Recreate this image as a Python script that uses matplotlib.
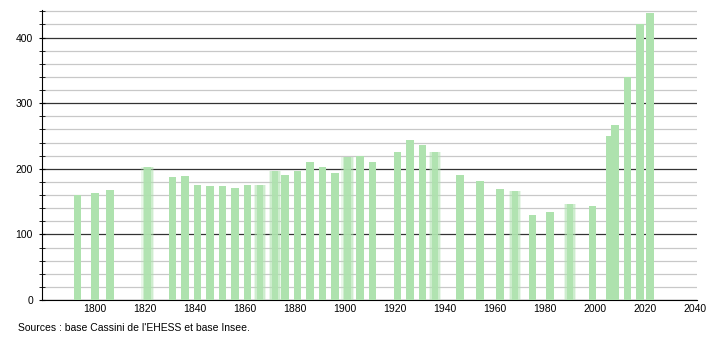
import numpy as np
import matplotlib
matplotlib.use("Agg")
import matplotlib.pyplot as plt
from matplotlib.ticker import MultipleLocator

plt.rcParams['font.family'] = ['Liberation Sans', 'DejaVu Sans']

# population par recensement
annees = [1793, 1800, 1806, 1821, 1831, 1836, 1841, 1846, 1851, 1856, 1861, 1866,
          1872, 1876, 1881, 1886, 1891, 1896, 1901, 1906, 1911, 1921, 1926, 1931,
          1936, 1946, 1954, 1962, 1968, 1975, 1982, 1990, 1999, 2006, 2008, 2013,
          2018, 2022]
population = [160, 163, 167, 202, 187, 189, 176, 174, 174, 171, 176, 175,
              196, 190, 196, 210, 202, 194, 218, 220, 210, 225, 244, 236,
              225, 190, 181, 169, 166, 129, 134, 147, 143, 250, 266, 340,
              420, 437]
# barres floues dans l'original
floues = [1821, 1866, 1872, 1901, 1936, 1968, 1990]

vert = '#aee2ae'

fig = plt.figure(figsize=(7.1, 3.4), dpi=100)
ax = fig.add_axes([42 / 710, 40 / 340, 655 / 710, 290 / 340])

for a, p in zip(annees, population):
    if a in floues:
        for w, al in [(5.0, 0.25), (4.0, 0.45), (2.8, 0.9)]:
            ax.bar(a, p, width=w, color=vert, alpha=al, linewidth=0, zorder=3)
    else:
        ax.bar(a, p, width=3.0, color=vert, linewidth=0, zorder=3)

ax.set_xlim(1778.8, 2040.8)
ax.set_ylim(0, 442)
ax.set_xticks(np.arange(1800, 2041, 20))
ax.yaxis.set_major_locator(MultipleLocator(100))
ax.yaxis.set_minor_locator(MultipleLocator(20))
ax.grid(axis='y', which='major', color='#333333', linewidth=0.9, zorder=1)
ax.grid(axis='y', which='minor', color='#c8c8c8', linewidth=0.9, zorder=1)

for s in ['top', 'right']:
    ax.spines[s].set_visible(False)
ax.spines['left'].set_color('black')
ax.spines['bottom'].set_color('black')
ax.tick_params(axis='x', length=0, labelsize=7.5, pad=3)
ax.tick_params(axis='y', which='major', direction='inout', length=5, labelsize=7.5, pad=4)
ax.tick_params(axis='y', which='minor', direction='inout', length=4)

fig.text(18 / 710, 1 - 328 / 340, "Sources : base Cassini de l'EHESS et base Insee.",
         fontsize=7.5, va='center', ha='left')

fig.savefig('out.png', dpi=100)
